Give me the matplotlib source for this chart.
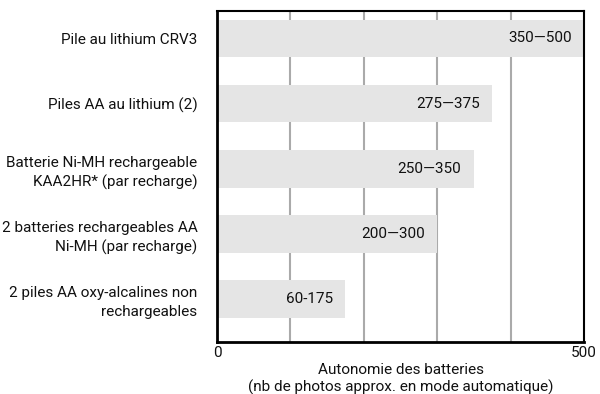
import matplotlib
matplotlib.use("Agg")
import matplotlib.pyplot as plt

# battery types and number of photos (low / high estimate)
batteries = [
    "Pile au lithium CRV3",
    "Piles AA au lithium (2)",
    "Batterie Ni-MH rechargeable\nKAA2HR* (par recharge)",
    "2 batteries rechargeables AA\nNi-MH (par recharge)",
    "2 piles AA oxy-alcalines non\nrechargeables",
]
low = [350, 275, 250, 200, 60]
high = [500, 375, 350, 300, 175]
range_labels = ["350\u2014500", "275\u2014375", "250\u2014350", "200\u2014300", "60-175"]

plt.rcParams["font.family"] = ["Roboto", "DejaVu Sans"]
fs = 11

fig = plt.figure(figsize=(6, 3.94), dpi=100)
ax = fig.add_axes([0.3617, 0.132, 0.6116, 0.840])

ypos = list(range(len(batteries)))
ax.barh(ypos, high, height=0.58, color="#e5e5e5", zorder=2)

# range text at the end of each bar
for y, h, txt in zip(ypos, high, range_labels):
    ax.text(h - 17, y, txt, ha="right", va="center", fontsize=fs, color="#111111", zorder=3)

ax.set_xlim(0, 500)
ax.set_ylim(4.66, -0.42)

# vertical grid lines
for gx in [100, 200, 300, 400]:
    ax.axvline(gx, color="#aaaaaa", lw=1.5, zorder=1)

ax.set_xticks([0, 500])
ax.set_xticklabels(["0", "500"], fontsize=fs, color="#111111")
ax.tick_params(axis="x", length=0, pad=3)
ax.set_yticks(ypos)
ax.set_yticklabels(batteries, fontsize=fs, color="#111111", linespacing=1.4)
ax.tick_params(axis="y", length=0, pad=14)

ax.set_xlabel("Autonomie des batteries\n(nb de photos approx. en mode automatique)",
              fontsize=fs, color="#111111", labelpad=2, linespacing=1.2)

for side in ["left", "bottom"]:
    ax.spines[side].set_linewidth(2)
for side in ["top", "right"]:
    ax.spines[side].set_linewidth(1.5)

fig.savefig("out.png", dpi=100)
